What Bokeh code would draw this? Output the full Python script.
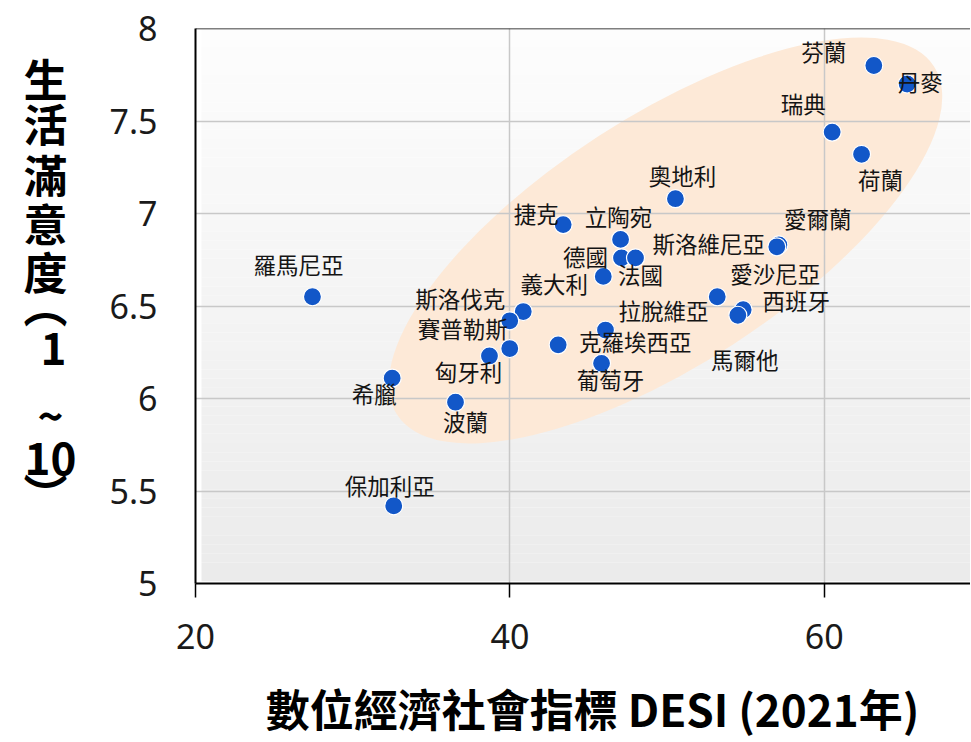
import numpy as np
from bokeh.plotting import figure
from bokeh.layouts import row, column
from bokeh.models import ColumnDataSource, Span, Range1d, FixedTicker
from bokeh.embed import file_html
from bokeh.resources import INLINE
from bokeh.core.properties import value

# ---------------- data ----------------
countries = ["芬蘭", "丹麥", "瑞典", "荷蘭", "奧地利", "捷克", "立陶宛", "愛爾蘭",
             "斯洛維尼亞", "德國", "法國", "義大利", "羅馬尼亞", "愛沙尼亞", "西班牙",
             "馬爾他", "斯洛伐克", "賽普勒斯", "拉脫維亞", "克羅埃西亞", "",
             "匈牙利", "葡萄牙", "希臘", "波蘭", "保加利亞"]
desi = [63.15, 65.27, 60.50, 62.37, 50.53, 43.39, 47.04, 57.11,
        56.98, 47.10, 47.99, 45.94, 27.44, 53.19, 54.84,
        54.50, 40.85, 39.99, 46.08, 43.07, 39.99,
        38.70, 45.83, 32.51, 36.54, 32.61]
life_sat = [7.80, 7.70, 7.44, 7.32, 7.08, 6.94, 6.86, 6.83,
            6.82, 6.76, 6.76, 6.66, 6.55, 6.55, 6.48,
            6.45, 6.47, 6.42, 6.37, 6.29, 6.27,
            6.23, 6.19, 6.11, 5.98, 5.42]

x_ticks = [20, 40, 60]
y_ticks = [5, 5.5, 6, 6.5, 7, 7.5, 8]
y_tick_labels = ["5", "5.5", "6", "6.5", "7", "7.5", "8"]
x_title = "數位經濟社會指標 DESI (2021年)"
y_title_chars = ["生", "活", "滿", "意", "度", "︵", "1", "~", "10", "︶"]

# ---------------- styling / layout ----------------
label_dx = [-50, 13, -29, 19, 7, -27, -2, 39,
            -68, -36, 5, -49, -14, 58, 53,
            7, -63, -47, 58, 77, 0,
            -21, 9, -18, 10, -4]
label_dy = [-15, -3, -29, 25, -24, -12, -23, -27,
            -4, -2, 16, 7, -33, -24, -10,
            44, -14, 7, -20, -4, 0,
            15, 16, 15, 19, -21]

TOTAL_W, TOTAL_H = 970, 740
TW = 100                      # side panel (y title) width
BH = 70                       # bottom panel (x title) height
W = TOTAL_W - TW
H = TOTAL_H - BH
FRAME_LEFT_PAGE, FRAME_TOP_PAGE, FRAME_BOTTOM_PAGE = 195, 28, 583
LEFT = FRAME_LEFT_PAGE - TW
TOP = FRAME_TOP_PAGE
BOTTOM = H - FRAME_BOTTOM_PAGE
X0, Y0, Y1 = 20, 5, 8
frame_w = W - LEFT
frame_h = H - TOP - BOTTOM
PX_PER_X = 15.72
X1 = X0 + frame_w / PX_PER_X
PX_PER_Y = frame_h / (Y1 - Y0)


def page_to_data(px, py):
    return (X0 + (px - FRAME_LEFT_PAGE) / PX_PER_X,
            Y1 - (py - FRAME_TOP_PAGE) / PX_PER_Y)


CJK = "Noto Sans CJK TC"

p = figure(width=W, height=H, output_backend="svg", toolbar_location=None,
           x_range=Range1d(X0, X1), y_range=Range1d(Y0, Y1),
           min_border_left=LEFT, min_border_right=0, min_border_top=TOP,
           min_border_bottom=BOTTOM)
p.outline_line_color = None
p.background_fill_color = "white"
p.border_fill_color = "white"

# gradient plot-area background (decoration)
n_bands = 60
edges = np.linspace(Y0 + 0.012, Y1, n_bands + 1)
cols = []
for i in range(n_bands):
    t = i / (n_bands - 1)
    v = int(round(0xEB + (0xFD - 0xEB) * t))
    cols.append("#%02x%02x%02x" % (v, v, v))
bg_left = X0 + 6 / PX_PER_X
p.quad(left=bg_left, right=X1, bottom=edges[:-1], top=edges[1:],
       fill_color=cols, line_color=None, level="image")

# highlight ellipse (decoration)
ex, ey = page_to_data(665, 240)
p.ellipse(x=[ex], y=[ey], width=640, height=248, width_units="screen",
          height_units="screen", angle=np.deg2rad(33), fill_color="#FDE9D7",
          line_color=None, level="image")

src = ColumnDataSource(dict(x=desi, y=life_sat, name=countries,
                            dx=label_dx, dy=label_dy))
p.scatter("x", "y", source=src, size=18, fill_color="#1257C8",
          line_color="white", line_width=1.2)
p.text("x", "y", text="name", source=src, x_offset="dx", y_offset="dy",
       text_align="center", text_baseline="middle",
       text_font=value(CJK), text_font_size="22.5px", text_color="#141414")

# axes
p.xaxis.ticker = FixedTicker(ticks=x_ticks)
p.yaxis.ticker = FixedTicker(ticks=y_ticks)
p.xgrid.ticker = FixedTicker(ticks=x_ticks)
p.ygrid.ticker = FixedTicker(ticks=y_ticks)
p.yaxis.major_label_overrides = {t: s for t, s in zip(y_ticks, y_tick_labels)}
p.xaxis.major_label_overrides = {t: str(t) for t in x_ticks}
for g in (p.xgrid, p.ygrid):
    g.grid_line_color = "#C8C8C8"
    g.grid_line_width = 1.5

for ax in (p.xaxis, p.yaxis):
    ax.axis_line_color = "black"
    ax.axis_line_width = 2
    ax.major_tick_line_color = "black"
    ax.major_tick_line_width = 1.5
    ax.minor_tick_line_color = None
    ax.major_tick_in = 0
    ax.major_label_text_font = "Noto Sans"
    ax.major_label_text_font_size = "34px"
    ax.major_label_text_color = "#1a1a1a"

p.xaxis.major_tick_out = 14
p.xaxis.major_label_standoff = 26
p.yaxis.major_tick_out = 0
p.yaxis.major_label_standoff = 38

# top border
p.add_layout(Span(location=Y1, dimension="width", line_color="black",
                  line_width=1.5))


def blank_panel(w, h, xr, yr):
    f = figure(width=w, height=h, output_backend="svg", toolbar_location=None,
               x_range=xr, y_range=yr, x_axis_location=None,
               y_axis_location=None, min_border=0, min_border_left=0,
               min_border_right=0, min_border_top=0, min_border_bottom=0)
    f.grid.visible = False
    f.outline_line_color = None
    f.background_fill_color = "white"
    f.border_fill_color = "white"
    return f


# ---------------- side panel: vertical y title ----------------
side = blank_panel(TW, TOTAL_H, Range1d(0, TW), Range1d(TOTAL_H, 0))
y_title_x = [45, 45, 45, 45, 45, 45, 53, 50, 50, 45]
y_title_y = [77, 122, 173, 222, 270, 303, 348, 413, 458, 492]
side.text(x=y_title_x, y=y_title_y, text=y_title_chars, text_align="center",
          text_baseline="middle", text_font=value(CJK),
          text_font_style="bold", text_font_size="44px", text_color="black")

# ---------------- bottom panel: x title ----------------
# (its frame is aligned with the main frame: page x 195 .. 970)
bottom = blank_panel(W, BH, Range1d(FRAME_LEFT_PAGE, TOTAL_W),
                     Range1d(TOTAL_H, H))
bottom.text(x=[592], y=[707], text=[x_title], text_align="center",
            text_baseline="middle", text_font=value(CJK),
            text_font_style="bold", text_font_size="44px", text_color="black")

layout = row(side, column(p, bottom, spacing=0), spacing=0)
open("out.html", "w").write(file_html(layout, INLINE))
